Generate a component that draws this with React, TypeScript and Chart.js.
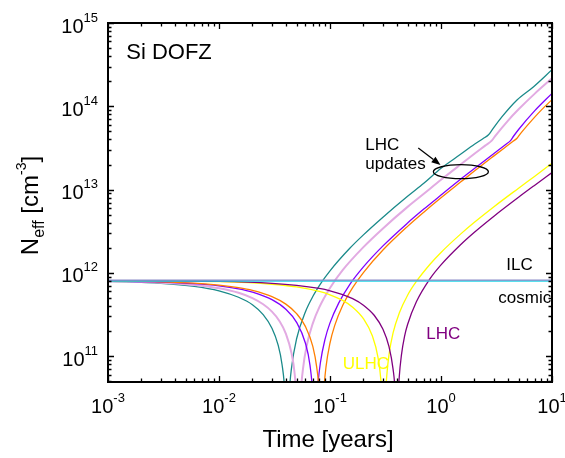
import React, { useEffect, useRef } from "react";
import { Chart, registerables } from "chart.js";

Chart.register(...registerables);

const FONT = '"Liberation Sans", Arial, Helvetica, sans-serif';

// Axis ranges
const X_MIN = 1e-3;
const X_MAX = 10;
const Y_MIN = 4.9e10;
const Y_MAX = 1e15;
const X_DECADES = [-3, -2, -1, 0, 1];
const Y_DECADES = [10, 11, 12, 13, 14, 15];
const X_TICK_EXP = ["-3", "-2", "-1", "0", "1"];
const Y_TICK_EXP = ["11", "12", "13", "14", "15"];

// Series: time [years] and |Neff| [cm^-3]; null = sign change (type inversion)
const tealT = [0.001, 0.003, 0.006, 0.01, 0.015, 0.02, 0.025, 0.03, 0.034, 0.037, 0.039, 0.0405, 0.041, 0.0415, 0.043, 0.045, 0.05, 0.06, 0.07, 0.085, 0.1, 0.15, 0.2, 0.3, 0.5, 0.7, 1.0, 1.5, 2.0, 2.4, 2.68, 2.9, 3.55, 4.84, 6.83, 10];
const tealN = [7.9e11, 7.5e11, 6.9e11, 6.1e11, 5.1e11, 4.15e11, 3.16e11, 2.17e11, 1.38e11, 7.9e10, 3.95e10, 9.9e9, null, 9e9, 3.6e10, 7.2e10, 1.62e11, 3.4e11, 5.2e11, 7.9e11, 1.06e12, 1.96e12, 2.86e12, 4.66e12, 8.3e12, 1.19e13, 1.8e13, 2.65e13, 3.5e13, 4.1e13, 4.55e13, 5.25e13, 7.5e13, 1.19e14, 1.72e14, 2.75e14];

const pinkT = [0.001, 0.003, 0.006, 0.01, 0.015, 0.02, 0.025, 0.03, 0.035, 0.04, 0.045, 0.048, 0.0505, 0.0515, 0.052, 0.0525, 0.054, 0.057, 0.062, 0.07, 0.08, 0.1, 0.13, 0.2, 0.3, 0.5, 0.7, 1.0, 1.5, 2.0, 2.5, 2.88, 3.1, 4.0, 5.0, 7.0, 10];
const pinkN = [7.95e11, 7.63e11, 7.17e11, 6.54e11, 5.77e11, 4.98e11, 4.2e11, 3.43e11, 2.65e11, 1.87e11, 1.09e11, 6.2e10, 2.3e10, 7.8e9, null, 6.9e9, 2.76e10, 6.9e10, 1.38e11, 2.48e11, 3.86e11, 6.6e11, 1.08e12, 2.04e12, 3.42e12, 6.2e12, 8.9e12, 1.31e13, 2.0e13, 2.69e13, 3.37e13, 3.9e13, 4.45e13, 6.7e13, 9.2e13, 1.42e14, 2.17e14];

const violetT = [0.001, 0.003, 0.006, 0.01, 0.015, 0.02, 0.03, 0.04, 0.05, 0.06, 0.066, 0.07, 0.072, 0.073, 0.0735, 0.075, 0.078, 0.082, 0.09, 0.1, 0.12, 0.15, 0.2, 0.3, 0.5, 0.7, 1.0, 1.5, 2.0, 3.0, 3.8, 4.21, 4.5, 5.0, 7.0, 10];
const violetN = [7.99e11, 7.77e11, 7.43e11, 6.99e11, 6.44e11, 5.88e11, 4.77e11, 3.66e11, 2.55e11, 1.44e11, 7.8e10, 3.3e10, 1.1e10, null, 4.6e9, 1.86e10, 4.65e10, 8.4e10, 1.58e11, 2.51e11, 4.37e11, 7.2e11, 1.18e12, 2.11e12, 3.97e12, 5.83e12, 8.6e12, 1.33e13, 1.79e13, 2.72e13, 3.46e13, 3.85e13, 4.37e13, 5.27e13, 8.87e13, 1.43e14];

const orangeT = [0.001, 0.003, 0.006, 0.01, 0.015, 0.02, 0.03, 0.04, 0.05, 0.06, 0.07, 0.076, 0.08, 0.0825, 0.0835, 0.084, 0.0855, 0.088, 0.092, 0.1, 0.11, 0.13, 0.16, 0.2, 0.3, 0.5, 0.7, 1.0, 1.5, 2.0, 3.0, 4.0, 4.4, 4.84, 5.2, 6.0, 8.0, 10];
const orangeN = [8.0e11, 7.81e11, 7.52e11, 7.13e11, 6.64e11, 6.16e11, 5.19e11, 4.22e11, 3.25e11, 2.28e11, 1.31e11, 7.3e10, 3.4e10, 9.7e9, null, 4.35e9, 1.74e10, 3.9e10, 7.4e10, 1.44e11, 2.31e11, 4.05e11, 6.66e11, 1.01e12, 1.88e12, 3.62e12, 5.36e12, 7.97e12, 1.23e13, 1.67e13, 2.54e13, 3.41e13, 3.76e13, 4.14e13, 4.69e13, 5.9e13, 9.0e13, 1.2e14];

const ulhcT = [0.001, 0.01, 0.03, 0.05, 0.08, 0.1, 0.13, 0.16, 0.2, 0.24, 0.27, 0.29, 0.3, 0.305, 0.307, 0.309, 0.315, 0.325, 0.34, 0.37, 0.42, 0.5, 0.6, 0.8, 1.0, 1.5, 2, 3, 5, 7, 10];
const ulhcN = [8.07e11, 7.84e11, 7.31e11, 6.78e11, 5.99e11, 5.46e11, 4.67e11, 3.88e11, 2.82e11, 1.77e11, 9.8e10, 4.5e10, 1.85e10, 5.3e9, null, 7.7e9, 2.8e10, 5.9e10, 1.04e11, 1.9e11, 3.27e11, 5.4e11, 7.9e11, 1.28e12, 1.76e12, 2.92e12, 4.05e12, 6.23e12, 1.04e13, 1.45e13, 2.07e13];

const lhcT = [0.001, 0.01, 0.03, 0.05, 0.08, 0.1, 0.13, 0.16, 0.2, 0.25, 0.3, 0.34, 0.37, 0.385, 0.395, 0.399, 0.4, 0.402, 0.41, 0.42, 0.44, 0.47, 0.5, 0.6, 0.8, 1.0, 1.5, 2, 3, 5, 7, 10];
const lhcN = [8.08e11, 7.9e11, 7.5e11, 7.1e11, 6.5e11, 6.1e11, 5.5e11, 4.9e11, 4.1e11, 3.1e11, 2.1e11, 1.3e11, 7.0e10, 4.0e10, 1.6e10, 5e9, null, 6.6e9, 2.9e10, 5.5e10, 1.03e11, 1.74e11, 2.4e11, 4.5e11, 8.6e11, 1.25e12, 2.18e12, 3.08e12, 4.8e12, 8.1e12, 1.13e13, 1.6e13];

const ilcT = [0.001, 10];
const ilcN = [8.2e11, 8.2e11];
const cosmicT = [0.001, 10];
const cosmicN = [8.0e11, 8.0e11];

// Annotation anchors (data coordinates)
const SI_LABEL = { t: 1.46e-3, n: 3.7e14, text: "Si DOFZ" };
const UPD_LABEL1 = { t: 0.208, n: 2.95e13, text: "LHC" };
const UPD_LABEL2 = { t: 0.208, n: 1.79e13, text: "updates" };
const ILC_LABEL = { t: 3.88, n: 1.08e12, text: "ILC" };
const COSMIC_LABEL = { t: 3.28, n: 4.41e11, text: "cosmic" };
const ULHC_LABEL = { t: 0.13, n: 6.96e10, text: "ULHC" };
const LHC_LABEL = { t: 0.738, n: 1.6e11, text: "LHC" };
const ELLIPSE = { t: 1.51, n: 1.64e13 };
const ARROW_FROM = { t: 0.624, n: 3.16e13 };
const ARROW_TO = { t: 0.99, n: 1.97e13 };

function pts(ts: number[], ns: (number | null)[]) {
  return ts.map((t, i) => ({ x: t, y: ns[i] }));
}

function ds(label: string, ts: number[], ns: (number | null)[], color: string, width: number) {
  return {
    label,
    data: pts(ts, ns),
    borderColor: color,
    backgroundColor: color,
    borderWidth: width,
    pointRadius: 0,
    fill: false,
    spanGaps: false,
    cubicInterpolationMode: "monotone" as const,
    clip: 0,
  };
}

function drawPow(ctx: CanvasRenderingContext2D, exp: string, x: number, baseline: number, align: "center" | "right") {
  const base = `20px ${FONT}`;
  const sup = `13px ${FONT}`;
  ctx.font = base;
  const w1 = ctx.measureText("10").width;
  ctx.font = sup;
  const w2 = ctx.measureText(exp).width;
  const total = w1 + w2;
  const x0 = align === "center" ? x - total / 2 : x - total;
  ctx.font = base;
  ctx.fillText("10", x0, baseline);
  ctx.font = sup;
  ctx.fillText(exp, x0 + w1, baseline - 11);
}

const overlay = {
  id: "overlay",
  afterDraw(chart: any) {
    const ctx: CanvasRenderingContext2D = chart.ctx;
    const { left, right, top, bottom } = chart.chartArea;
    const xs = chart.scales.x;
    const ys = chart.scales.y;
    const px = (t: number) => xs.getPixelForValue(t);
    const py = (n: number) => ys.getPixelForValue(n);
    ctx.save();
    ctx.fillStyle = "#000";
    ctx.strokeStyle = "#000";
    ctx.textAlign = "left";
    ctx.textBaseline = "alphabetic";

    // ticks (inward, all four sides)
    ctx.lineWidth = 1.3;
    const majorLen = 6;
    const minorLen = 3.5;
    for (const e of X_DECADES) {
      for (let m = 1; m <= 9; m++) {
        const v = m * Math.pow(10, e);
        if (v < X_MIN * 0.999 || v > X_MAX * 1.001) continue;
        const x = Math.round(px(v)) + 0.5;
        const len = m === 1 ? majorLen : minorLen;
        ctx.beginPath();
        ctx.moveTo(x, bottom);
        ctx.lineTo(x, bottom - len);
        ctx.moveTo(x, top);
        ctx.lineTo(x, top + len);
        ctx.stroke();
      }
    }
    for (const e of Y_DECADES) {
      for (let m = 1; m <= 9; m++) {
        const v = m * Math.pow(10, e);
        if (v < Y_MIN * 0.999 || v > Y_MAX * 1.001) continue;
        const y = Math.round(py(v)) + 0.5;
        const len = m === 1 ? majorLen : minorLen;
        ctx.beginPath();
        ctx.moveTo(left, y);
        ctx.lineTo(left + len, y);
        ctx.moveTo(right, y);
        ctx.lineTo(right - len, y);
        ctx.stroke();
      }
    }

    // frame
    ctx.lineWidth = 2;
    ctx.strokeRect(left, top, right - left, bottom - top);

    // tick labels
    X_DECADES.forEach((e, i) => {
      drawPow(ctx, X_TICK_EXP[i], px(Math.pow(10, e)), bottom + 31, "center");
    });
    Y_TICK_EXP.forEach((s) => {
      drawPow(ctx, s, left - 10, py(Math.pow(10, Number(s))) + 9.5, "right");
    });

    // x title
    ctx.font = `24px ${FONT}`;
    ctx.textAlign = "center";
    ctx.fillText("Time [years]", (left + right) / 2 - 2, bottom + 65);
    ctx.textAlign = "left";

    // y title (rotated)
    ctx.save();
    ctx.translate(38, (top + bottom) / 2 + 3);
    ctx.rotate(-Math.PI / 2);
    const parts = [
      { t: "N", size: 24, dy: 0 },
      { t: "eff", size: 16, dy: 6 },
      { t: " [cm", size: 24, dy: 0 },
      { t: "-3", size: 14, dy: -12 },
      { t: "]", size: 24, dy: 0 },
    ];
    let total = 0;
    for (const p of parts) {
      ctx.font = `${p.size}px ${FONT}`;
      total += ctx.measureText(p.t).width;
    }
    let cx = -total / 2;
    for (const p of parts) {
      ctx.font = `${p.size}px ${FONT}`;
      ctx.fillText(p.t, cx, p.dy);
      cx += ctx.measureText(p.t).width;
    }
    ctx.restore();

    // labels inside the plot
    const label = (l: { t: number; n: number; text: string }, size: number, color: string) => {
      ctx.font = `${size}px ${FONT}`;
      ctx.fillStyle = color;
      ctx.fillText(l.text, px(l.t), py(l.n));
    };
    label(SI_LABEL, 22, "#000");
    label(UPD_LABEL1, 17, "#000");
    label(UPD_LABEL2, 17, "#000");
    label(ILC_LABEL, 17, "#000");
    label(COSMIC_LABEL, 17, "#000");
    label(ULHC_LABEL, 17, "#ffff00");
    label(LHC_LABEL, 17, "#800080");

    // ellipse
    ctx.strokeStyle = "#000";
    ctx.lineWidth = 1.3;
    ctx.beginPath();
    ctx.ellipse(px(ELLIPSE.t), py(ELLIPSE.n), 27.5, 7, 0, 0, Math.PI * 2);
    ctx.stroke();

    // arrow
    const ax0 = px(ARROW_FROM.t), ay0 = py(ARROW_FROM.n);
    const ax1 = px(ARROW_TO.t), ay1 = py(ARROW_TO.n);
    const ang = Math.atan2(ay1 - ay0, ax1 - ax0);
    const hl = 9, hw = 3.5;
    const bx = ax1 - hl * Math.cos(ang), by = ay1 - hl * Math.sin(ang);
    ctx.lineWidth = 1.2;
    ctx.beginPath();
    ctx.moveTo(ax0, ay0);
    ctx.lineTo(bx, by);
    ctx.stroke();
    ctx.fillStyle = "#000";
    ctx.beginPath();
    ctx.moveTo(ax1, ay1);
    ctx.lineTo(bx + hw * Math.sin(ang), by - hw * Math.cos(ang));
    ctx.lineTo(bx - hw * Math.sin(ang), by + hw * Math.cos(ang));
    ctx.closePath();
    ctx.fill();

    ctx.restore();
  },
};

export default function App() {
  const ref = useRef<HTMLCanvasElement>(null);
  useEffect(() => {
    const chart = new Chart(ref.current as HTMLCanvasElement, {
      type: "line",
      data: {
        datasets: [
          ds("ILC", ilcT, ilcN, "#8c8cc8", 1.2),
          ds("cosmic", cosmicT, cosmicN, "#22d4e6", 1.5),
          ds("LHC", lhcT, lhcN, "#800080", 1.3),
          ds("ULHC", ulhcT, ulhcN, "#ffff00", 1.3),
          ds("orange", orangeT, orangeN, "#ff7f00", 1.3),
          ds("violet", violetT, violetN, "#8000ff", 1.3),
          ds("pink", pinkT, pinkN, "#e2aae2", 2.0),
          ds("teal", tealT, tealN, "#1a8a8a", 1.3),
        ] as any,
      },
      options: {
        responsive: false,
        animation: false,
        devicePixelRatio: 1,
        layout: { padding: { top: 23, right: 13, left: 0, bottom: 0 } },
        plugins: { legend: { display: false }, tooltip: { enabled: false } },
        elements: { point: { radius: 0 } },
        scales: {
          x: {
            type: "logarithmic",
            min: X_MIN,
            max: X_MAX,
            ticks: { display: false },
            grid: { display: false },
            border: { display: false },
            afterFit: (s: any) => {
              s.height = 76;
            },
          },
          y: {
            type: "logarithmic",
            min: Y_MIN,
            max: Y_MAX,
            ticks: { display: false },
            grid: { display: false },
            border: { display: false },
            afterFit: (s: any) => {
              s.width = 108;
            },
          },
        },
      } as any,
      plugins: [overlay],
    });
    return () => chart.destroy();
  }, []);
  return (
    <div style={{ position: "fixed", left: 0, top: 0, width: 565, height: 458, background: "#fff" }}>
      <canvas ref={ref} width={565} height={458} style={{ display: "block", width: 565, height: 458 }} />
    </div>
  );
}
